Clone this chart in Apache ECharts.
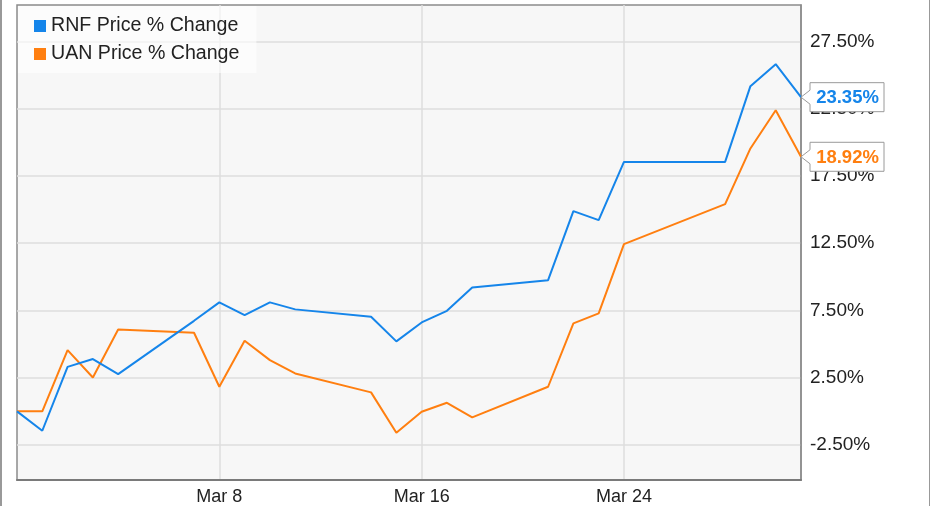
<!DOCTYPE html>
<html><head><meta charset="utf-8">
<script src="https://cdn.jsdelivr.net/npm/echarts@6/dist/echarts.min.js"></script>
<style>html,body{margin:0;padding:0;background:#fff}#c{width:931px;height:506px}</style>
</head><body><div id="c"></div>
<script>
const dates = ['2016-02-29','2016-03-01','2016-03-02','2016-03-03','2016-03-04','2016-03-07','2016-03-08','2016-03-09','2016-03-10','2016-03-11','2016-03-14','2016-03-15','2016-03-16','2016-03-17','2016-03-18','2016-03-21','2016-03-22','2016-03-23','2016-03-24','2016-03-28','2016-03-29','2016-03-30','2016-03-31'];
const rnfValues = [0, -1.44, 3.31, 3.89, 2.77, 6.73, 8.10, 7.15, 8.10, 7.58, 7.03, 5.20, 6.61, 7.47, 9.21, 9.75, 14.88, 14.21, 18.54, 18.54, 24.17, 25.80, 23.35];
const uanValues = [0, 0, 4.55, 2.52, 6.09, 5.84, 1.83, 5.25, 3.81, 2.82, 1.41, -1.59, -0.03, 0.64, -0.45, 1.83, 6.54, 7.28, 12.43, 15.40, 19.54, 22.38, 18.92];
const seriesNames = ['RNF Price % Change', 'UAN Price % Change'];
const seriesColors = ['#1585ea', '#ff7f10'];
const yTicks = [-2.5, 2.5, 7.5, 12.5, 17.5, 22.5, 27.5];
const xTickDates = ['2016-03-08', '2016-03-16', '2016-03-24'];
const xTickLabels = ['Mar 8', 'Mar 16', 'Mar 24'];
const xMinDate = '2016-02-29', xMaxDate = '2016-03-31';
const yMin = -5.1, yMax = 30.2;

function ts(s) { const p = s.split('-').map(Number); return Date.UTC(p[0], p[1] - 1, p[2]); }
const xTickTs = xTickDates.map(ts);

const chart = echarts.init(document.getElementById('c'), null, {renderer: 'canvas'});
const FONT = 'Liberation Sans, Arial, sans-serif';
const option = {
  animation: false,
  backgroundColor: '#fff',
  grid: {left: 17, right: 130, top: 5, bottom: 26, show: true, backgroundColor: '#f7f7f7', borderColor: '#8c8c8c', borderWidth: 1.5},
  legend: {
    orient: 'vertical', left: 18, top: 6, padding: [10, 17, 9, 16],
    backgroundColor: 'rgba(255,255,255,0.6)',
    itemWidth: 12, itemHeight: 12, itemGap: 8, icon: 'rect',
    textStyle: {fontFamily: FONT, fontSize: 19.6, color: '#222', lineHeight: 20},
    data: seriesNames
  },
  xAxis: {
    type: 'value', min: ts(xMinDate), max: ts(xMaxDate),
    axisLine: {show: true, onZero: false, lineStyle: {color: '#7a7a7a', width: 2}},
    axisTick: {show: false, customValues: xTickTs},
    axisLabel: {customValues: xTickTs, margin: 8, fontFamily: FONT, fontSize: 18, color: '#222',
      formatter: function (v) { const i = xTickTs.indexOf(v); return i >= 0 ? xTickLabels[i] : ''; }},
    splitLine: {show: true, lineStyle: {color: '#dedede', width: 1.5}}
  },
  yAxis: {
    type: 'value', position: 'right', min: yMin, max: yMax,
    axisLine: {show: true, onZero: false, lineStyle: {color: '#8c8c8c', width: 1.5}},
    axisTick: {show: false, customValues: yTicks},
    axisLabel: {customValues: yTicks, margin: 9, fontFamily: FONT, fontSize: 19, color: '#222',
      formatter: function (v) { return v.toFixed(2) + '%'; }},
    splitLine: {show: true, lineStyle: {color: '#dedede', width: 1.5}}
  },
  series: [
    {name: seriesNames[0], type: 'line', showSymbol: false, color: seriesColors[0], lineStyle: {width: 2},
      data: dates.map((d, i) => [ts(d), rnfValues[i]]), z: 3},
    {name: seriesNames[1], type: 'line', showSymbol: false, color: seriesColors[1], lineStyle: {width: 2},
      data: dates.map((d, i) => [ts(d), uanValues[i]]), z: 2}
  ]
};
chart.setOption(option);

function endBox(values, color) {
  const last = values.length - 1;
  const p = chart.convertToPixel({gridIndex: 0}, [ts(dates[last]), values[last]]);
  const x = p[0], y = p[1];
  const L = x + 9, R = x + 83, T = y - 14.5, B = y + 14.5;
  return [
    {type: 'polygon', z: 100, shape: {points: [[x, y], [L, y - 7], [L, T], [R, T], [R, B], [L, B], [L, y + 7]]},
      style: {fill: '#fff', stroke: '#9a9a9a', lineWidth: 1}},
    {type: 'text', z: 101, x: (L + R) / 2 + 0.5, y: y + 1,
      style: {text: values[last].toFixed(2) + '%', fill: color, font: 'bold 18.5px ' + FONT, align: 'center', verticalAlign: 'middle'}}
  ];
}
chart.setOption({
  graphic: [
    {type: 'line', shape: {x1: 1, y1: 0, x2: 1, y2: 506}, style: {stroke: '#999', lineWidth: 2}},
    {type: 'line', shape: {x1: 929.5, y1: 0, x2: 929.5, y2: 506}, style: {stroke: '#999', lineWidth: 1}}
  ].concat(endBox(rnfValues, seriesColors[0]), endBox(uanValues, seriesColors[1]))
});
</script></body></html>
